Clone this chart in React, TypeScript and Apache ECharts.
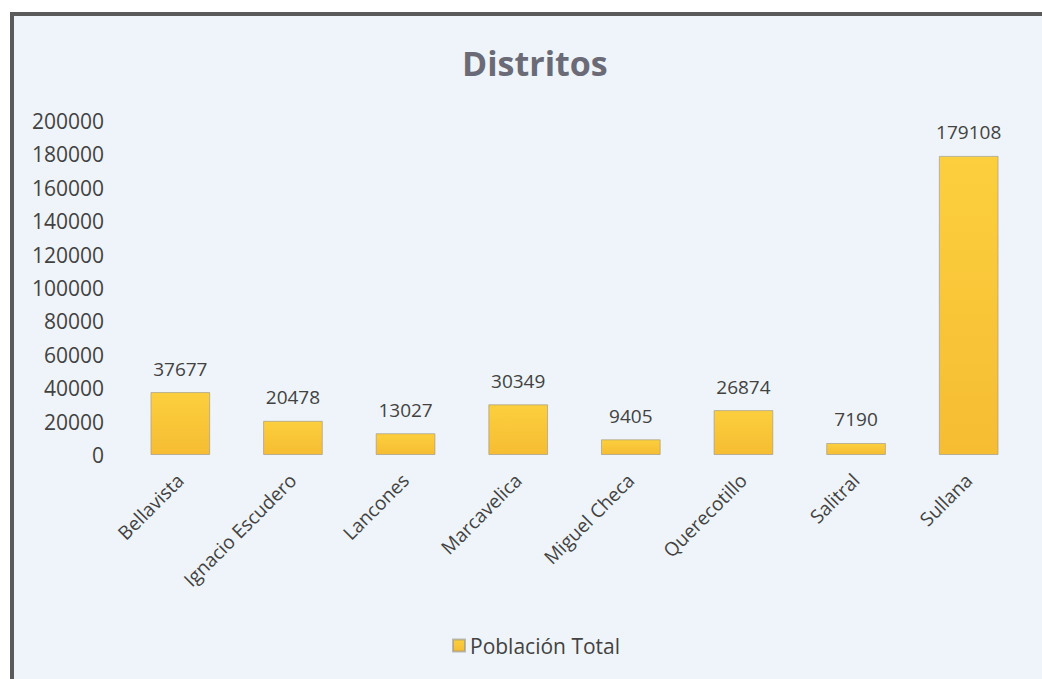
import React, { useEffect, useRef } from "react";
import * as echarts from "echarts";

const categories = ["Bellavista", "Ignacio Escudero", "Lancones", "Marcavelica", "Miguel Checa", "Querecotillo", "Salitral", "Sullana"];
const poblacion = [37677, 20478, 13027, 30349, 9405, 26874, 7190, 179108];
const yTicks = [0, 20000, 40000, 60000, 80000, 100000, 120000, 140000, 160000, 180000, 200000];

const FONT = "'Open Sans', sans-serif";
const TEXT = "#424242";

export default function App() {
  const ref = useRef<HTMLDivElement>(null);
  useEffect(() => {
    document.body.style.margin = "0";
    const chart = echarts.init(ref.current!, undefined, { renderer: "svg" });
    chart.setOption({
      animation: false,
      backgroundColor: "#ffffff",
      graphic: [
        {
          type: "rect",
          z: -10,
          silent: true,
          shape: { x: 12, y: 14, width: 1100, height: 800 },
          style: { fill: "#eef4f9", stroke: "#5a5a5a", lineWidth: 4 },
        },
      ],
      title: {
        text: "Distritos",
        left: 457,
        top: 41,
        textStyle: { fontFamily: FONT, fontSize: 34, fontWeight: "bold", color: "#6b6b78" },
      },
      legend: {
        bottom: 18,
        left: 447,
        itemWidth: 12,
        itemHeight: 12,
        itemGap: 8,
        icon: "rect",
        textStyle: { fontFamily: FONT, fontSize: 21, color: TEXT },
        data: ["Población Total"],
      },
      grid: { left: 124, right: 17, top: 121, bottom: 224, containLabel: false },
      xAxis: {
        type: "category",
        data: categories,
        axisLine: { show: false },
        axisTick: { show: false },
        axisLabel: { rotate: 45, interval: 0, fontFamily: FONT, fontSize: 19, color: TEXT, margin: 22 },
      },
      yAxis: {
        type: "value",
        min: yTicks[0],
        max: yTicks[yTicks.length - 1],
        interval: yTicks[1] - yTicks[0],
        splitLine: { show: false },
        axisLine: { show: false },
        axisTick: { show: false },
        axisLabel: {
          fontFamily: FONT,
          fontSize: 21,
          color: TEXT,
          margin: 20,
          formatter: (v: number) => String(v),
        },
      },
      series: [
        {
          name: "Población Total",
          type: "bar",
          data: poblacion,
          barWidth: "53%",
          itemStyle: {
            color: new echarts.graphic.LinearGradient(0, 0, 0, 1, [
              { offset: 0, color: "#fccf3e" },
              { offset: 1, color: "#f6bd32" },
            ]),
            borderColor: "rgba(140,140,140,0.55)",
            borderWidth: 1,
          },
          label: {
            show: true,
            position: "top",
            distance: 14,
            fontFamily: FONT,
            fontSize: 19,
            color: TEXT,
          },
        },
      ],
    });
    return () => chart.dispose();
  }, []);
  return <div ref={ref} style={{ position: "absolute", left: 0, top: 0, width: 1042, height: 679 }} />;
}
